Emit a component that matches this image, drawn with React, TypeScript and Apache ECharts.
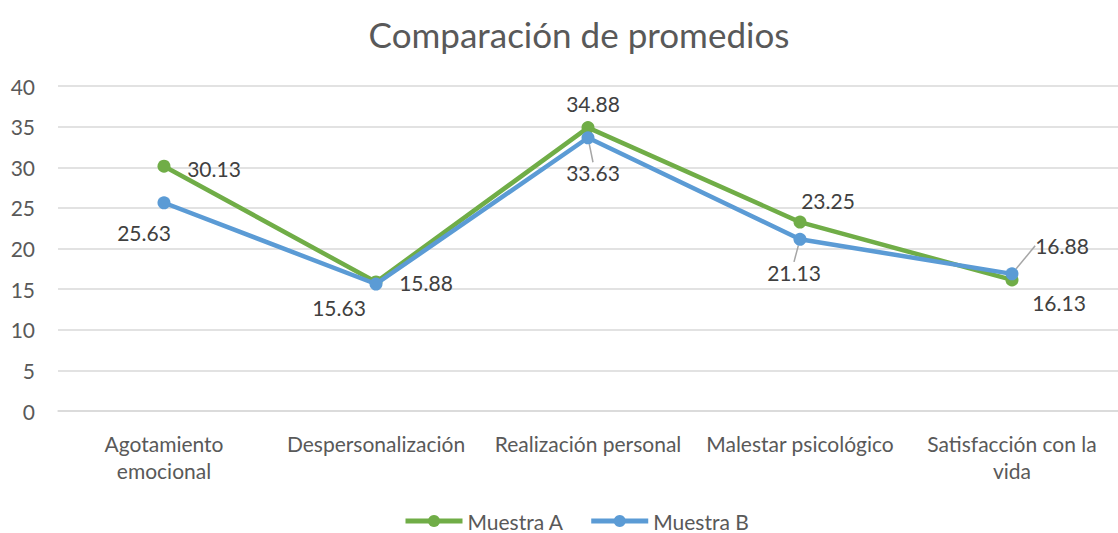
import React, { useEffect, useRef } from "react";
import * as echarts from "echarts";

const title = "Comparación de promedios";
const categories = [
  "Agotamiento\nemocional",
  "Despersonalización",
  "Realización personal",
  "Malestar psicológico",
  "Satisfacción con la\nvida",
];
const seriesNames = ["Muestra A", "Muestra B"];
const muestraA = [30.13, 15.88, 34.88, 23.25, 16.13];
const muestraB = [25.63, 15.63, 33.63, 21.13, 16.88];
const yTicks = { min: 0, max: 40, interval: 5 };

// label offsets (dx, dy) from point, per series
const offsetsA: [number, number][] = [[50, 2], [50, 1], [5, -24], [28, -22], [47, 23]];
const offsetsB: [number, number][] = [[-20, 30], [-37, 23], [5, 35], [-6, 33], [50, -28]];
const leaderB = [false, false, true, true, true];

const FONT = "Lato";
const GREY = "#595959";

export default function App() {
  const ref = useRef<HTMLDivElement>(null);
  useEffect(() => {
    document.body.style.margin = "0";
    const chart = echarts.init(ref.current!, null, { renderer: "svg" });
    const mk = (name: string, data: number[], color: string, offs: [number, number][], leaders: boolean[] | null) => ({
      name,
      type: "line",
      data: data.map((v, i) => ({
        value: v,
        labelLine: { show: leaders ? leaders[i] : false, lineStyle: { color: "#A6A6A6", width: 1.5 } },
      })),
      symbol: "circle",
      symbolSize: 13,
      itemStyle: { color },
      lineStyle: { color, width: 4.5 },
      z: name === "Muestra B" ? 3 : 2,
      label: {
        show: true,
        position: "inside",
        color: "#404040",
        fontFamily: FONT,
        fontSize: 21,
        formatter: (p: any) => p.value.toFixed(2),
      },
      labelLayout: (p: any) => ({ dx: offs[p.dataIndex][0], dy: offs[p.dataIndex][1] }),
    });
    chart.setOption({
      animation: false,
      backgroundColor: "#fff",
      title: {
        text: title,
        left: 574,
        top: 11,
        textAlign: "center",
        textStyle: { color: GREY, fontFamily: FONT, fontSize: 35, fontWeight: "normal" },
      },
      legend: {
        bottom: 1,
        left: 403,
        itemWidth: 57,
        itemHeight: 15,
        itemGap: 25,
        padding: 0,
        lineStyle: { width: 5 },
        textStyle: { color: GREY, fontFamily: FONT, fontSize: 21, lineHeight: 22 },
        data: seriesNames,
      },
      grid: { left: 58, top: 86, width: 1070, height: 325, containLabel: false },
      xAxis: {
        type: "category",
        data: categories,
        axisLine: { lineStyle: { color: "#D9D9D9", width: 1.5 } },
        axisTick: { show: false },
        axisLabel: { color: GREY, fontFamily: FONT, fontSize: 21, lineHeight: 27, margin: 19, interval: 0 },
      },
      yAxis: {
        type: "value",
        min: yTicks.min,
        max: yTicks.max,
        interval: yTicks.interval,
        axisLine: { show: false },
        axisTick: { show: false },
        axisLabel: { color: GREY, fontFamily: FONT, fontSize: 21, margin: 23 },
        splitLine: { lineStyle: { color: "#D9D9D9", width: 1.5 } },
      },
      series: [
        mk(seriesNames[0], muestraA, "#70AD47", offsetsA, null),
        mk(seriesNames[1], muestraB, "#5B9BD5", offsetsB, leaderB),
      ],
    });
    return () => chart.dispose();
  }, []);
  return <div ref={ref} style={{ width: 1118, height: 533 }} />;
}
